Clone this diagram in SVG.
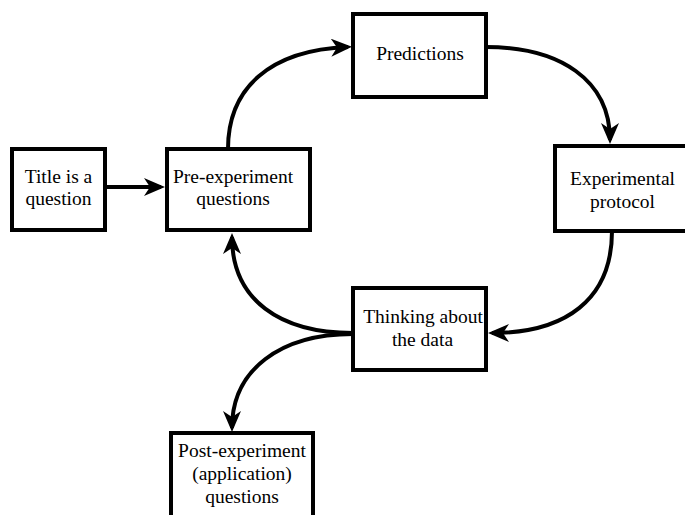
<svg xmlns="http://www.w3.org/2000/svg" width="685" height="515" viewBox="0 0 685 515">
<style>
.box{fill:#fff;stroke:#000;stroke-width:4}
.lbl{font-family:"Liberation Serif","Times New Roman",serif;font-size:19.5px;fill:#000;text-anchor:middle}
.conn{fill:none;stroke:#000;stroke-width:4;marker-end:url(#arr)}
</style>
<defs>
<marker id="arr" markerUnits="userSpaceOnUse" viewBox="0 0 21 18" markerWidth="21" markerHeight="18" refX="17" refY="9" orient="auto">
<path d="M0,0 L21,9 L0,18 L6,9 Z" fill="#000"/>
</marker>
</defs>
<rect width="685" height="515" fill="#fff"/>
<g id="connectors">
<path class="conn" d="M105,187 L161,187"/>
<path class="conn" d="M228,149 C228,88 270,50 348,47"/>
<path class="conn" d="M486,47 C560,47 610,80 610,140"/>
<path class="conn" d="M612,231 C612,300 565,333 492,333"/>
<path class="conn" d="M353,333 C280,333 232,300 232,237"/>
<path class="conn" d="M353,334 C280,334 232,370 232,428"/>
</g>
<g id="title">
<rect class="box" x="12" y="149" width="93" height="81"/>
<text class="lbl" x="58.5" y="183">Title is a</text>
<text class="lbl" x="58.5" y="205">question</text>
</g>
<g id="pre">
<rect class="box" x="167" y="149" width="143" height="81"/>
<text class="lbl" x="233" y="183">Pre-experiment</text>
<text class="lbl" x="233" y="205">questions</text>
</g>
<g id="predictions">
<rect class="box" x="353" y="14" width="133" height="83"/>
<text class="lbl" x="420" y="60">Predictions</text>
</g>
<g id="protocol">
<rect class="box" x="555" y="146" width="140" height="85"/>
<text class="lbl" x="622.5" y="185">Experimental</text>
<text class="lbl" x="622.5" y="207.5">protocol</text>
</g>
<g id="thinking">
<rect class="box" x="353" y="288" width="133" height="82"/>
<text class="lbl" x="423" y="323">Thinking about</text>
<text class="lbl" x="422.5" y="346">the data</text>
</g>
<g id="post">
<rect class="box" x="171" y="433" width="142" height="100"/>
<text class="lbl" x="242" y="457">Post-experiment</text>
<text class="lbl" x="242" y="480">(application)</text>
<text class="lbl" x="242" y="503">questions</text>
</g>
</svg>
